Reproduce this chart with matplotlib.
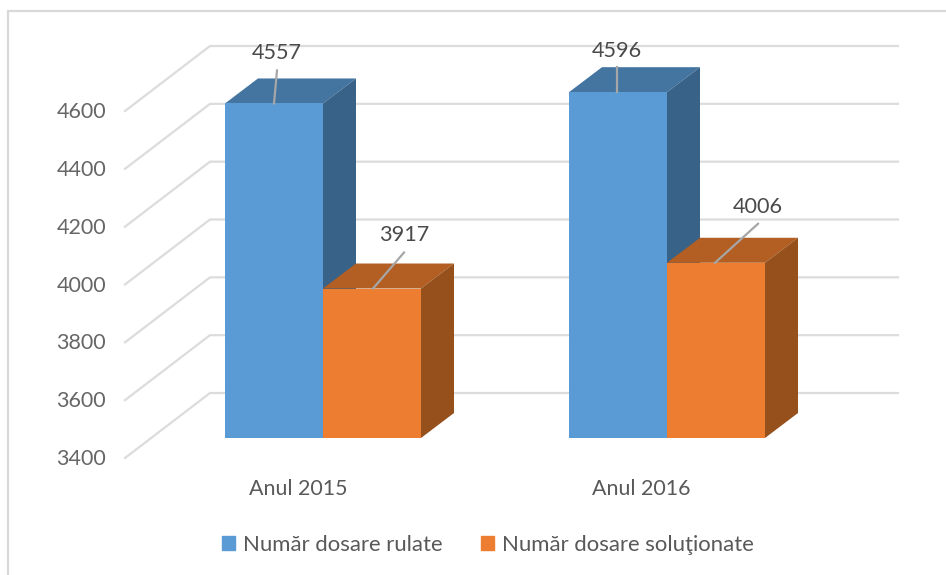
import matplotlib.pyplot as plt
from matplotlib.patches import Patch, Polygon

# Data
anos = ['Anul 2015', 'Anul 2016']
rulate = [4557, 4596]
solutionate = [3917, 4006]
ticks = [3400, 3600, 3800, 4000, 4200, 4400, 4600]
nume_serii = ['Număr dosare rulate', 'Număr dosare soluţionate']

plt.rcParams['font.family'] = ['Lato', 'DejaVu Sans']

# Colours (front, top, side)
albastru = ('#5b9bd5', '#4475a1', '#386287')
portocaliu = ('#ed7d31', '#b35e22', '#95501c')
grila = '#dcdcdc'

# Scale: x in pixels, y in values
PX = 57.83 / 200   # pixels per unit
BASE = 438         # pixel row of 3400 on the bar face
W, H = 946, 575

fig = plt.figure(figsize=(W / 100, H / 100), dpi=100)
ax = fig.add_axes([0, 0, 1, 1])
ax.set_xlim(0, W)
ax.set_ylim(3400 - (H - BASE) / PX, 3400 + BASE / PX)
ax.axis('off')


def val(px):
    # value shift for a shift of px pixels
    return px / PX


# Walls
for t in ticks:
    y_back = t + val(45)
    y_front = t - val(20)
    ax.plot([125, 210, 898], [y_front, y_back, y_back], c=grila, lw=1.6,
            solid_joinstyle='miter', zorder=1)
    ax.text(106, y_front - val(1), str(t), ha='right', va='center',
            fontsize=15.5, color='#666666')


def barra(x0, v, cores, z):
    dx, dy = 33, val(25)
    largura = 98
    x1 = x0 + largura
    ax.bar(x0, v - ticks[0], largura, bottom=ticks[0], align='edge',
           color=cores[0], zorder=z + 0.2)
    ax.add_patch(Polygon([(x0, v), (x0 + dx, v + dy), (x1 + dx, v + dy), (x1, v)],
                         fc=cores[1], ec='none', zorder=z))
    ax.add_patch(Polygon([(x1, ticks[0]), (x1 + dx, ticks[0] + dy),
                          (x1 + dx, v + dy), (x1, v)],
                         fc=cores[2], ec='none', zorder=z + 0.1))


def rotulo(x, v, off_linha, off_texto):
    ax.plot([x, x + off_linha[0]], [v, v + val(off_linha[1])], c='#a6a6a6',
            lw=1.6, zorder=6)
    ax.text(x + off_texto[0], v + val(off_texto[1]), str(v), ha='center',
            va='center', fontsize=15.6, color='#4a4a4a', zorder=7)


x_rulate = [225, 569]
x_sol = [323, 667]
for i in range(2):
    barra(x_rulate[i], rulate[i], albastru, 2)
    barra(x_sol[i], solutionate[i], portocaliu, 3)

rotulo(274, rulate[0], (3, 33), (3, 50))
rotulo(373, solutionate[0], (31, 36), (31, 54))
rotulo(617, rulate[1], (0, 25), (0, 41))
rotulo(715, solutionate[1], (43, 39), (43, 56))

for x, nome in zip([298, 641], anos):
    ax.text(x, ticks[0] - val(51), nome, ha='center', va='center',
            fontsize=15.4, color='#595959')

# Legend
handles = [Patch(color=albastru[0]), Patch(color=portocaliu[0])]
fig.legend(handles, nume_serii, ncol=2, loc='center',
           bbox_to_anchor=(488 / W, 1 - 545 / H), frameon=False, fontsize=15.9,
           labelcolor='#595959', handlelength=0.6, handleheight=0.6,
           handletextpad=0.36, columnspacing=1.75)

# Outer frame
fig.add_artist(plt.Line2D([8 / W, 8 / W, 1], [0, 1 - 11 / H, 1 - 11 / H],
                          c='#d9d9d9', lw=1.6, solid_joinstyle='miter'))

fig.savefig('out.png', dpi=100)
